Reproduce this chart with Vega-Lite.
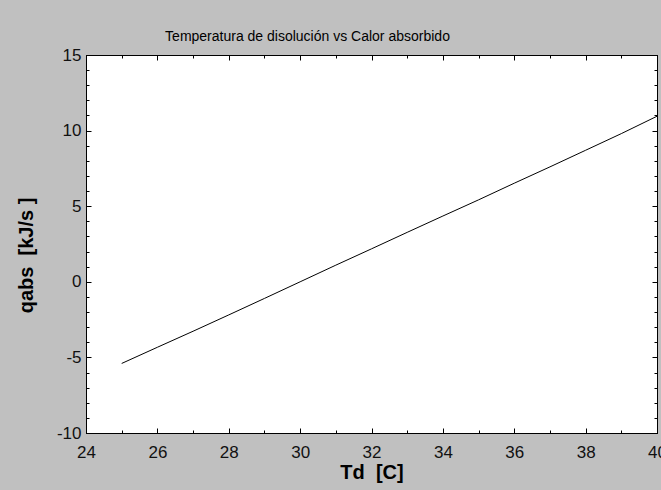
{
  "$schema": "https://vega.github.io/schema/vega-lite/v6.json",
  "width": 571,
  "height": 378,
  "autosize": {"type": "none"},
  "padding": {"left": 86, "top": 55, "right": 4, "bottom": 57},
  "background": "#C0C0C0",
  "title": {
    "text": "Temperatura de disolución vs Calor absorbido",
    "font": "Liberation Sans",
    "fontSize": 14,
    "fontWeight": "normal",
    "color": "#000000",
    "anchor": "middle",
    "dx": -64,
    "offset": 2
  },
  "config": {
    "view": {"stroke": "#000000", "strokeWidth": 1, "fill": "#FFFFFF"},
    "axis": {
      "labelFont": "Liberation Sans",
      "labelFontSize": 17,
      "labelColor": "#111111",
      "titleFont": "Liberation Sans",
      "titleFontSize": 20,
      "titleFontWeight": "bold",
      "titleColor": "#000000",
      "domainColor": "#000000",
      "tickColor": "#000000",
      "grid": false
    }
  },
  "data": {
    "values": [
      {"T": 25, "q": -5.4},
      {"T": 26, "q": -4.33},
      {"T": 27, "q": -3.27},
      {"T": 28, "q": -2.19},
      {"T": 29, "q": -1.1},
      {"T": 30, "q": 0.0},
      {"T": 31, "q": 1.1},
      {"T": 32, "q": 2.18},
      {"T": 33, "q": 3.27},
      {"T": 34, "q": 4.35},
      {"T": 35, "q": 5.42},
      {"T": 36, "q": 6.52},
      {"T": 37, "q": 7.6},
      {"T": 38, "q": 8.7},
      {"T": 39, "q": 9.8},
      {"T": 40, "q": 10.95}
    ]
  },
  "layer": [
    {
      "mark": {"type": "line", "color": "#000000", "strokeWidth": 1},
      "encoding": {
        "x": {"field": "T", "type": "quantitative",
          "scale": {"domain": [24, 40], "nice": false, "zero": false},
          "axis": {"orient": "bottom", "values": [24, 26, 28, 30, 32, 34, 36, 38, 40], "tickSize": -5, "labelPadding": 16, "title": "Td\u00a0\u00a0[C]", "titlePadding": 2, "labelFlush": false}},
        "y": {"field": "q", "type": "quantitative",
          "scale": {"domain": [-10, 15], "nice": false, "zero": false},
          "axis": {"orient": "left", "values": [-10, -5, 0, 5, 10, 15], "tickSize": -5, "labelPadding": 10, "labelExpr": "replace(datum.label, '−', '-')", "title": "qabs\u00a0\u00a0[kJ/s\u00a0]", "titlePadding": 20, "titleY": 200, "labelFlush": false}}
      }
    },
    {
      "mark": {"type": "line", "opacity": 0},
      "encoding": {
        "x": {"field": "T", "type": "quantitative",
          "scale": {"domain": [24, 40], "nice": false, "zero": false},
          "axis": {"orient": "bottom", "values": [24,25,26,27,28,29,30,31,32,33,34,35,36,37,38,39,40], "tickSize": -3, "labels": false, "domain": false, "title": null}},
        "y": {"field": "q", "type": "quantitative",
          "scale": {"domain": [-10, 15], "nice": false, "zero": false},
          "axis": {"orient": "left", "values": [-10,-9,-8,-7,-6,-5,-4,-3,-2,-1,0,1,2,3,4,5,6,7,8,9,10,11,12,13,14,15], "tickSize": -3, "labels": false, "domain": false, "title": null}}
      }
    },
    {
      "mark": {"type": "line", "opacity": 0},
      "encoding": {
        "x": {"field": "T", "type": "quantitative",
          "scale": {"domain": [24, 40], "nice": false, "zero": false},
          "axis": {"orient": "top", "values": [24, 26, 28, 30, 32, 34, 36, 38, 40], "tickSize": -5, "labels": false, "title": null}},
        "y": {"field": "q", "type": "quantitative",
          "scale": {"domain": [-10, 15], "nice": false, "zero": false},
          "axis": {"orient": "right", "values": [-10, -5, 0, 5, 10, 15], "tickSize": -5, "labels": false, "title": null}}
      }
    },
    {
      "mark": {"type": "line", "opacity": 0},
      "encoding": {
        "x": {"field": "T", "type": "quantitative",
          "scale": {"domain": [24, 40], "nice": false, "zero": false},
          "axis": {"orient": "top", "values": [24,25,26,27,28,29,30,31,32,33,34,35,36,37,38,39,40], "tickSize": -3, "labels": false, "domain": false, "title": null}},
        "y": {"field": "q", "type": "quantitative",
          "scale": {"domain": [-10, 15], "nice": false, "zero": false},
          "axis": {"orient": "right", "values": [-10,-9,-8,-7,-6,-5,-4,-3,-2,-1,0,1,2,3,4,5,6,7,8,9,10,11,12,13,14,15], "tickSize": -3, "labels": false, "domain": false, "title": null}}
      }
    }
  ],
  "resolve": {"axis": {"x": "independent", "y": "independent"}}
}
